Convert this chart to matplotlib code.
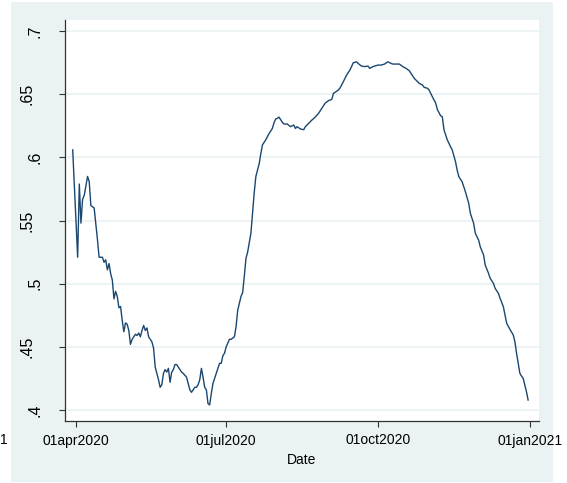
import numpy as np
import pandas as pd
import matplotlib
matplotlib.use("Agg")
import matplotlib.pyplot as plt
import matplotlib.transforms as mtransforms
from matplotlib.patches import Rectangle

plt.rcParams['font.family'] = ['Liberation Sans', 'DejaVu Sans']

# days after 01apr2020 and the plotted share
day_offset = [-2, 1, 2, 3, 4, 5, 7, 8, 9, 11, 13, 14, 16, 17, 18, 19, 20, 21, 22, 23,
              24, 25, 26, 27, 28, 29, 30, 31, 32, 33, 34, 35, 36, 37, 38, 39, 40, 41, 42, 43,
              44, 46, 47, 48, 50, 51, 52, 53, 54, 55, 56, 57, 58, 59, 60, 61, 63, 64, 65, 67,
              68, 69, 70, 71, 72, 73, 74, 75, 76, 77, 78, 79, 80, 81, 82, 83, 84, 85, 86, 87,
              88, 89, 90, 91, 92, 93, 94, 96, 97, 98, 100, 101, 102, 103, 104, 106, 107, 108, 109, 111,
              112, 113, 115, 117, 119, 120, 121, 122, 123, 125, 126, 128, 129, 130, 132, 133, 134, 136, 138, 139,
              141, 143, 145, 147, 149, 151, 153, 155, 156, 159, 160, 162, 164, 166, 167, 168, 170, 171, 173, 175,
              177, 178, 180, 181, 183, 185, 187, 189, 191, 192, 194, 196, 198, 200, 202, 203, 205, 206, 208, 210,
              211, 213, 214, 216, 218, 219, 220, 221, 222, 223, 225, 227, 228, 230, 231, 232, 234, 235, 236, 238,
              239, 241, 242, 244, 245, 247, 248, 250, 251, 253, 254, 256, 257, 259, 260, 261, 263, 265, 266, 267,
              268, 269, 270, 271, 272, 273, 274]
share = [0.606, 0.521, 0.579, 0.548, 0.567, 0.570, 0.585, 0.581, 0.562, 0.560, 0.535, 0.521, 0.521, 0.517, 0.519, 0.511, 0.516, 0.508, 0.503, 0.488,
         0.494, 0.490, 0.481, 0.482, 0.471, 0.462, 0.469, 0.468, 0.463, 0.452, 0.456, 0.458, 0.460, 0.459, 0.461, 0.458, 0.463, 0.467, 0.463, 0.465,
         0.458, 0.454, 0.449, 0.434, 0.424, 0.418, 0.420, 0.429, 0.432, 0.430, 0.433, 0.422, 0.430, 0.432, 0.436, 0.436, 0.432, 0.430, 0.429, 0.426,
         0.421, 0.416, 0.414, 0.416, 0.418, 0.418, 0.420, 0.424, 0.433, 0.426, 0.418, 0.416, 0.405, 0.404, 0.413, 0.421, 0.425, 0.429, 0.433, 0.437,
         0.437, 0.443, 0.445, 0.450, 0.453, 0.456, 0.456, 0.458, 0.466, 0.479, 0.490, 0.493, 0.506, 0.520, 0.525, 0.540, 0.556, 0.572, 0.585, 0.595,
         0.603, 0.610, 0.614, 0.619, 0.623, 0.6275, 0.6305, 0.631, 0.632, 0.628, 0.6265, 0.6265, 0.6255, 0.6244, 0.6257, 0.623, 0.6244, 0.6226, 0.622, 0.6244,
         0.627, 0.6297, 0.632, 0.635, 0.639, 0.643, 0.645, 0.646, 0.6507, 0.6534, 0.655, 0.660, 0.6653, 0.6693, 0.672, 0.675, 0.6758, 0.6745, 0.6724, 0.672,
         0.6724, 0.6706, 0.672, 0.6724, 0.6732, 0.6732, 0.674, 0.6758, 0.6745, 0.674, 0.674, 0.674, 0.672, 0.6706, 0.6687, 0.6667, 0.6627, 0.6614, 0.6587, 0.6574,
         0.6556, 0.6548, 0.6535, 0.648, 0.643, 0.638, 0.6355, 0.633, 0.6323, 0.622, 0.614, 0.6085, 0.606, 0.5967, 0.590, 0.5848, 0.5808, 0.5768, 0.5729, 0.5637,
         0.5558, 0.5478, 0.540, 0.5346, 0.5293, 0.5228, 0.5148, 0.5083, 0.5043, 0.5003, 0.4964, 0.4924, 0.4885, 0.4818, 0.4752, 0.4687, 0.4639, 0.4594, 0.4541, 0.4449,
         0.437, 0.4291, 0.4269, 0.4251, 0.4198, 0.4145, 0.4079]

y_ticks = [0.4, 0.45, 0.5, 0.55, 0.6, 0.65, 0.7]
y_labels = ['.4', '.45', '.5', '.55', '.6', '.65', '.7']
x_tick_dates = ['2020-04-01', '2020-07-01', '2020-10-01', '2021-01-01']
x_labels = ['01apr2020', '01jul2020', '01oct2020', '01jan2021']

start = pd.Timestamp('2020-04-01')
dates = start + pd.to_timedelta(day_offset, unit='D')

fig = plt.figure(figsize=(5.67, 4.83), dpi=100)
fig.patch.set_facecolor('white')
W, H = 567, 483
fig.add_artist(Rectangle((11 / W, 1 - 482 / H), 542 / W, 480 / H,
                         transform=fig.transFigure, facecolor='#EAF2F3',
                         edgecolor='none', zorder=0))

ax = fig.add_axes([65 / W, 1 - 421 / H, 474 / W, 401 / H])
ax.set_facecolor('white')
ax.plot(dates, share, color='#1A476F', lw=1.0, zorder=3)

ax.set_ylim(0.3913, 0.7089)
ax.set_xlim(start - pd.Timedelta(days=6.67), start + pd.Timedelta(days=280.6))

ax.set_yticks(y_ticks)
ax.set_yticklabels(y_labels, rotation=90, va='center', ha='right', fontsize=11.5)
ax.set_xticks(pd.to_datetime(x_tick_dates))
ax.set_xticklabels(x_labels, fontsize=10)
ax.set_xlabel('Date', fontsize=10, labelpad=4)

ax.grid(axis='y', color='#EAF2F3', lw=1.3)
ax.grid(axis='x', visible=False)
ax.set_axisbelow(True)

for s in ['top', 'right']:
    ax.spines[s].set_visible(False)
for s in ['left', 'bottom']:
    ax.spines[s].set_color('#333333')
    ax.spines[s].set_linewidth(0.9)
ax.tick_params(axis='y', length=4, width=0.8, color='#333333', pad=12)
ax.tick_params(axis='x', length=4, width=0.8, color='#333333', pad=5)

# longer labels sit further from the axis in the reference
for lab in ax.get_yticklabels():
    if len(lab.get_text()) == 3:
        lab.set_transform(lab.get_transform() +
                          mtransforms.ScaledTranslation(-8 / 100, 0, fig.dpi_scale_trans))

# clipped label fragment at the far left edge of the picture
fig.text(0.0, 1 - 440 / H, '1', fontsize=10, va='center', ha='left')

fig.savefig('out.png', dpi=100)
